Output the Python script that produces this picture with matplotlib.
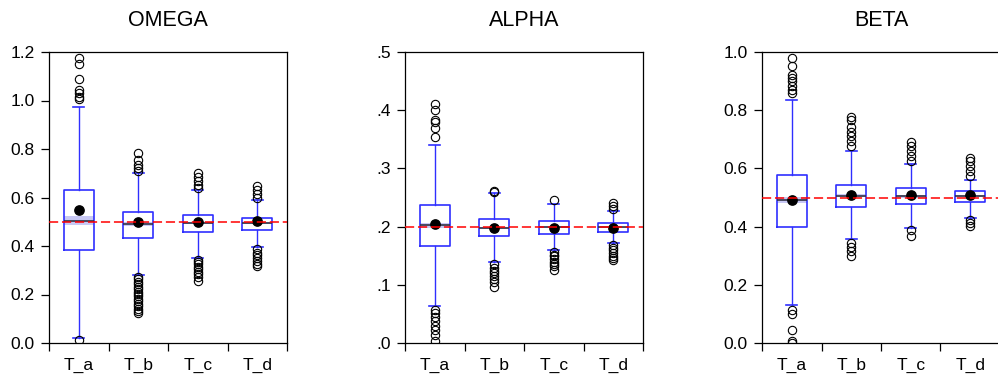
import matplotlib
matplotlib.use("Agg")
import matplotlib.pyplot as plt
from matplotlib.ticker import FixedLocator

plt.rcParams['font.family'] = ['Liberation Sans', 'DejaVu Sans']

categories = ["T_a", "T_b", "T_c", "T_d"]
titles = ["OMEGA", "ALPHA", "BETA"]
true_values = [0.5, 0.2, 0.5]
y_limits = [(0.0, 1.2), (0.0, 0.5), (0.0, 1.0)]
y_ticks = [[0.0, 0.2, 0.4, 0.6, 0.8, 1.0, 1.2],
           [0.0, 0.1, 0.2, 0.3, 0.4, 0.5],
           [0.0, 0.2, 0.4, 0.6, 0.8, 1.0]]
y_ticklabels = [["0.0", "0.2", "0.4", "0.6", "0.8", "1.0", "1.2"],
                [".0", ".1", ".2", ".3", ".4", ".5"],
                ["0.0", "0.2", "0.4", "0.6", "0.8", "1.0"]]

# OMEGA
omega_med = [0.502, 0.492, 0.495, 0.495]
omega_q1 = [0.384, 0.433, 0.456, 0.467]
omega_q3 = [0.631, 0.542, 0.526, 0.517]
omega_lo = [0.020, 0.279, 0.351, 0.396]
omega_hi = [0.972, 0.701, 0.630, 0.588]
omega_mean = [0.548, 0.499, 0.499, 0.502]
omega_cilo = [0.488, 0.484, 0.490, 0.491]
omega_cihi = [0.525, 0.500, 0.500, 0.499]
omega_fliers = [
    [1.175, 1.152, 1.089, 1.045, 1.031, 1.014, 1.006, 0.013],
    [0.783, 0.753, 0.735, 0.722, 0.708, 0.272, 0.262, 0.252, 0.242, 0.232,
     0.222, 0.212, 0.202, 0.192, 0.182, 0.172, 0.162, 0.152, 0.142, 0.132, 0.125],
    [0.701, 0.685, 0.667, 0.653, 0.639, 0.344, 0.334, 0.324, 0.314, 0.304,
     0.294, 0.284, 0.272, 0.255],
    [0.646, 0.632, 0.616, 0.598, 0.388, 0.371, 0.361, 0.351, 0.337, 0.327, 0.319],
]

# ALPHA
alpha_med = [0.202, 0.198, 0.199, 0.199]
alpha_q1 = [0.167, 0.183, 0.188, 0.191]
alpha_q3 = [0.2377, 0.213, 0.209, 0.206]
alpha_lo = [0.063, 0.140, 0.159, 0.172]
alpha_hi = [0.340, 0.257, 0.239, 0.226]
alpha_mean = [0.204, 0.198, 0.197, 0.198]
alpha_cilo = [0.198, 0.196, 0.197, 0.198]
alpha_cihi = [0.206, 0.200, 0.201, 0.200]
alpha_fliers = [
    [0.411, 0.400, 0.384, 0.379, 0.369, 0.354, 0.057, 0.052, 0.044, 0.037,
     0.030, 0.023, 0.014, 0.003],
    [0.262, 0.259, 0.136, 0.129, 0.124, 0.120, 0.115, 0.110, 0.104, 0.097],
    [0.245, 0.156, 0.152, 0.149, 0.144, 0.140, 0.136, 0.133, 0.126],
    [0.241, 0.235, 0.230, 0.169, 0.163, 0.159, 0.155, 0.150, 0.146, 0.142],
]

# BETA
beta_med = [0.491, 0.506, 0.504, 0.504]
beta_q1 = [0.397, 0.466, 0.477, 0.485]
beta_q3 = [0.577, 0.544, 0.531, 0.521]
beta_lo = [0.129, 0.357, 0.395, 0.430]
beta_hi = [0.836, 0.661, 0.615, 0.561]
beta_mean = [0.490, 0.510, 0.510, 0.509]
beta_cilo = [0.481, 0.501, 0.500, 0.501]
beta_cihi = [0.501, 0.511, 0.508, 0.507]
beta_fliers = [
    [0.979, 0.953, 0.922, 0.911, 0.899, 0.882, 0.871, 0.859, 0.112, 0.101,
     0.046, 0.006, 0.0],
    [0.777, 0.767, 0.742, 0.724, 0.710, 0.693, 0.676, 0.344, 0.330, 0.315, 0.300],
    [0.690, 0.676, 0.659, 0.641, 0.624, 0.389, 0.367],
    [0.636, 0.624, 0.607, 0.590, 0.573, 0.424, 0.412, 0.401],
]

panels = [
    (omega_med, omega_q1, omega_q3, omega_lo, omega_hi, omega_mean, omega_cilo, omega_cihi, omega_fliers),
    (alpha_med, alpha_q1, alpha_q3, alpha_lo, alpha_hi, alpha_mean, alpha_cilo, alpha_cihi, alpha_fliers),
    (beta_med, beta_q1, beta_q3, beta_lo, beta_hi, beta_mean, beta_cilo, beta_cihi, beta_fliers),
]

W, H = 998, 381
fig = plt.figure(figsize=(W / 100, H / 100), dpi=100)
lefts = [49, 405, 762]
ax_w = 238
ax_top, ax_bot = 52, 343

box_color = "#2f2fff"
for i, (med, q1, q3, lo, hi, mn, cilo, cihi, fl) in enumerate(panels):
    ax = fig.add_axes([lefts[i] / W, (H - ax_bot) / H, ax_w / W, (ax_bot - ax_top) / H])
    stats = []
    for j in range(len(categories)):
        stats.append(dict(med=med[j], q1=q1[j], q3=q3[j], whislo=lo[j], whishi=hi[j],
                          mean=mn[j], fliers=fl[j], label=categories[j]))
    positions = list(range(1, len(categories) + 1))
    for j, p in enumerate(positions):
        ax.fill_between([p - 0.25, p + 0.25], cilo[j], cihi[j], color="#c8c8f4", lw=0, zorder=2)
    ax.bxp(stats, positions=positions, widths=0.5, showmeans=True, showfliers=True,
           boxprops=dict(color=box_color, lw=1.2),
           whiskerprops=dict(color=box_color, lw=1.0),
           capprops=dict(color=box_color, lw=1.2),
           capwidths=0.18,
           medianprops=dict(color="#333344", lw=1.2),
           meanprops=dict(marker="o", markerfacecolor="black", markeredgecolor="black", markersize=6.7),
           flierprops=dict(marker="o", markerfacecolor="none", markeredgecolor="black",
                           markersize=6, markeredgewidth=0.8),
           zorder=3)
    ax.axhline(true_values[i], color="red", ls=(0, (6, 2.5)), lw=1.1, zorder=4)
    ax.set_xlim(0.5, len(categories) + 0.5)
    ax.set_ylim(*y_limits[i])
    ax.set_yticks(y_ticks[i])
    ax.set_yticklabels(y_ticklabels[i])
    ax.set_xticks(positions)
    ax.set_xticklabels(categories)
    ax.xaxis.set_minor_locator(FixedLocator([k + 0.5 for k in range(len(categories) + 1)]))
    ax.tick_params(axis="x", which="major", length=0, pad=10.5, labelsize=12.5)
    ax.tick_params(axis="x", which="minor", length=5.5, width=0.9, direction="out")
    ax.tick_params(axis="y", which="major", length=5.8, width=0.9, direction="out", labelsize=12.5, pad=4.5)
    for s in ax.spines.values():
        s.set_linewidth(0.9)
    ax.set_title(titles[i], fontsize=15.5, pad=18.5)

fig.savefig("out.png", dpi=100)
